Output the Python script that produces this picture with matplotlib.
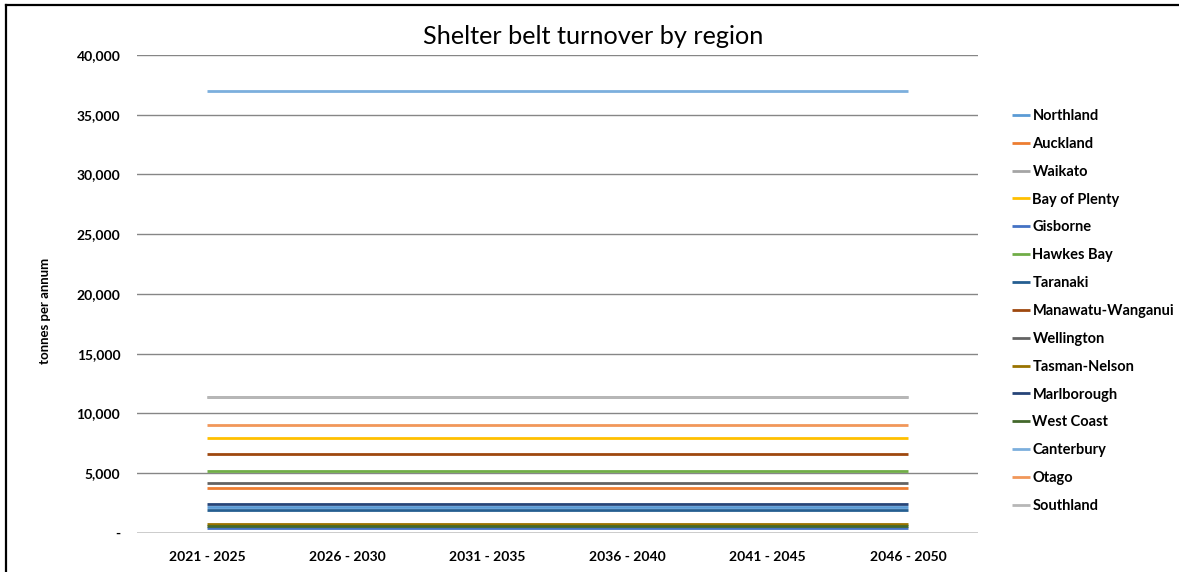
import matplotlib
matplotlib.use("Agg")
import matplotlib.pyplot as plt
from matplotlib.lines import Line2D
from matplotlib.ticker import FuncFormatter, MultipleLocator

# %% data (tonnes per annum, constant over each period)
periods = ['2021 - 2025', '2026 - 2030', '2031 - 2035',
           '2036 - 2040', '2041 - 2045', '2046 - 2050']

northland = [2150, 2150, 2150, 2150, 2150, 2150]
auckland = [3780, 3780, 3780, 3780, 3780, 3780]
waikato = [11400, 11400, 11400, 11400, 11400, 11400]
bay_of_plenty = [7950, 7950, 7950, 7950, 7950, 7950]
gisborne = [420, 420, 420, 420, 420, 420]
hawkes_bay = [5220, 5220, 5220, 5220, 5220, 5220]
taranaki = [1950, 1950, 1950, 1950, 1950, 1950]
manawatu = [6580, 6580, 6580, 6580, 6580, 6580]
wellington = [4170, 4170, 4170, 4170, 4170, 4170]
tasman_nelson = [720, 720, 720, 720, 720, 720]
marlborough = [2420, 2420, 2420, 2420, 2420, 2420]
west_coast = [560, 560, 560, 560, 560, 560]
canterbury = [37000, 37000, 37000, 37000, 37000, 37000]
otago = [9000, 9000, 9000, 9000, 9000, 9000]
southland = [11420, 11420, 11420, 11420, 11420, 11420]

regions = ['Northland', 'Auckland', 'Waikato', 'Bay of Plenty', 'Gisborne',
           'Hawkes Bay', 'Taranaki', 'Manawatu-Wanganui', 'Wellington',
           'Tasman-Nelson', 'Marlborough', 'West Coast', 'Canterbury',
           'Otago', 'Southland']
series = [northland, auckland, waikato, bay_of_plenty, gisborne, hawkes_bay,
          taranaki, manawatu, wellington, tasman_nelson, marlborough,
          west_coast, canterbury, otago, southland]
colors = ['#5B9BD5', '#ED7D31', '#A5A5A5', '#FFC000', '#4472C4', '#70AD47',
          '#255E91', '#9E480E', '#636363', '#997300', '#264478', '#43682B',
          '#7CAFDD', '#F1975A', '#B7B7B7']

# %% font
plt.rcParams['font.family'] = ['Lato', 'DejaVu Sans']

# %% plot
fig = plt.figure(figsize=(11.79, 5.72), dpi=100)
ax = fig.add_axes([0.1162, 0.0682, 0.7133, 0.8357])

x = list(range(len(periods)))
for name, vals, c in zip(regions, series, colors):
    ax.plot(x, vals, color=c, lw=2.0, label=name, solid_capstyle='butt')

ax.set_xlim(-0.5, 5.5)
ax.set_ylim(0, 40000)
ax.yaxis.set_major_locator(MultipleLocator(5000))
ax.yaxis.set_major_formatter(FuncFormatter(lambda v, p: '-' if v == 0 else f'{v:,.0f}'))
ax.set_xticks(x)
ax.set_xticklabels(periods)

# gridlines like excel
ax.grid(axis='y', color='#868686', lw=1.0)
ax.set_axisbelow(True)
for s in ax.spines.values():
    s.set_visible(False)
ax.axhline(0, color='#D9D9D9', lw=1.2, zorder=0)

ax.tick_params(length=0)
ax.tick_params(axis='y', pad=12)
ax.tick_params(axis='x', pad=13)
for t in ax.get_xticklabels() + ax.get_yticklabels():
    t.set_fontsize(10)
    t.set_fontweight('bold')

fig.text(0.503, 1 - 37 / 572, 'Shelter belt turnover by region',
         ha='center', va='center', fontsize=18.2)
fig.text(45 / 1179, 1 - 311 / 572, 'tonnes per annum', rotation=90,
         ha='center', va='center', fontsize=9.5, fontweight='bold')

fig.legend(loc='upper left', bbox_to_anchor=(1012 / 1179, 1 - 109 / 572),
           frameon=False, prop={'weight': 'bold', 'size': 10.5},
           handlelength=1.25, handletextpad=0.15, labelspacing=0.95,
           borderaxespad=0, borderpad=0)

# outer border of the chart box
fig.add_artist(Line2D([6 / 1179, 6 / 1179], [0, 1 - 5 / 572], color='black', lw=1.6))
fig.add_artist(Line2D([6 / 1179, 1], [1 - 5 / 572, 1 - 5 / 572], color='black', lw=1.6))

fig.savefig('out.png', dpi=100)
